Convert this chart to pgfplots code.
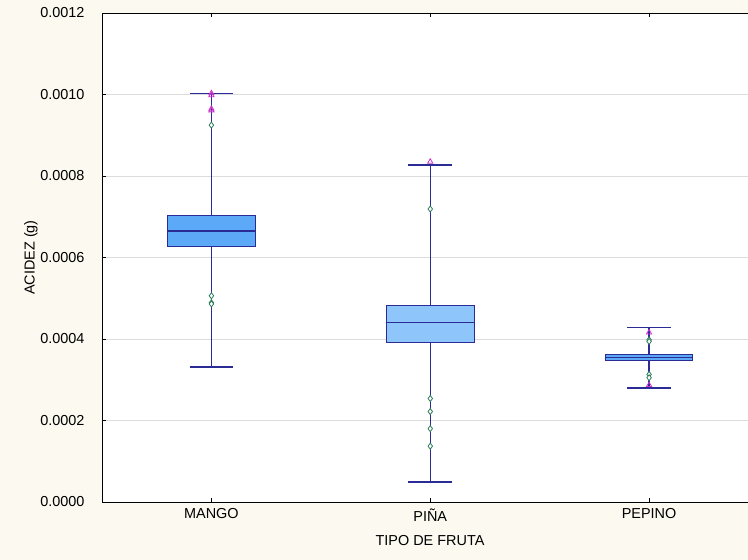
\documentclass[border=0pt]{standalone}
\usepackage{fontspec}
\setmainfont{Liberation Sans}
\usepackage{pgfplots}
\pgfplotsset{compat=1.18}
\usepgfplotslibrary{statistics}
\definecolor{cream}{HTML}{FCF9F0}
\definecolor{navyline}{HTML}{2B2B96}
\definecolor{boxA}{HTML}{5CA9F7}
\definecolor{boxB}{HTML}{8EC5FA}
\definecolor{outgreen}{HTML}{2E7D5B}
\definecolor{outmag}{HTML}{CC33CC}
\definecolor{gridgrey}{HTML}{DCDCDC}
\begin{document}
\begin{tikzpicture}
\fill[cream] (0bp,0bp) rectangle (748bp,560bp);
\begin{axis}[
  at={(102bp,58bp)}, anchor=south west,
  scale only axis, width=646bp, height=489bp,
  xmin=-0.5, xmax=2.452, ymin=0, ymax=0.0012,
  axis background/.style={fill=white},
  axis x line*=box, axis y line*=left,
  axis line style={black, line width=0.9bp},
  xtick={0,1,2}, xticklabels={MANGO,PIÑA,PEPINO},
  ytick={0,0.0002,0.0004,0.0006,0.0008,0.0010,0.0012},
  scaled y ticks=false,
  yticklabel style={/pgf/number format/.cd, fixed, fixed zerofill, precision=4, assume math mode=true, /tikz/.cd, xshift=-14bp},
  tick style={black, line width=0.8bp},
  tick align=inside, major tick length=4bp,
  ymajorgrids, grid style={gridgrey, line width=0.8bp},
  font=\fontsize{14.5}{16}\selectfont,
  tick label style={font=\fontsize{14.5}{16}\selectfont},
  xticklabel style={yshift=-3bp},
  xlabel={TIPO DE FRUTA}, ylabel={ACIDEZ (g)},
  xlabel style={at={(axis description cs:0.5077,0)}, anchor=center, yshift=-39bp},
  ylabel style={at={(axis description cs:-0.110,0.5)}, anchor=center},
  clip=false,
  boxplot/draw direction=y,
  boxplot/every whisker/.style={draw=navyline, line width=1.3bp},
  boxplot/every box/.style={draw=navyline, line width=1bp},
  boxplot/every median/.style={draw=navyline, line width=1.1bp},
]
% MANGO
\addplot+[no marks, draw=navyline, line width=1bp, fill=boxA, solid,
  boxplot prepared={lower whisker=0.000331, lower quartile=0.000627, median=0.000665,
  upper quartile=0.000704, upper whisker=0.001003, draw position=0,
  box extend=0.4, whisker extend=0.2}] coordinates {};
% PINA
\addplot+[no marks, draw=navyline, line width=1bp, fill=boxB, solid,
  boxplot prepared={lower whisker=0.000049, lower quartile=0.000392, median=0.000440,
  upper quartile=0.000483, upper whisker=0.000827, draw position=1,
  box extend=0.4, whisker extend=0.2}] coordinates {};
% PEPINO
\addplot+[no marks, draw=navyline, line width=1bp, fill=boxA, solid,
  boxplot prepared={lower whisker=0.000280, lower quartile=0.000347, median=0.000355,
  upper quartile=0.000362, upper whisker=0.000429, draw position=2,
  box extend=0.4, whisker extend=0.2}] coordinates {};
% outliers: diamonds
\addplot[only marks, mark=diamond*, mark size=3bp, mark options={draw=outgreen, fill=white, line width=0.8bp}]
  coordinates {(0,0.000925) (0,0.000506) (0,0.000489) (0,0.000486)
  (1,0.000719) (1,0.000254) (1,0.000222) (1,0.000180) (1,0.000137)
  (2,0.000398) (2,0.000394) (2,0.000313) (2,0.000305)};
% outliers: triangles
\addplot[only marks, mark=triangle, mark size=3bp, mark options={draw=outmag, line width=0.8bp}]
  coordinates {(0,0.001003) (0,0.000998) (0,0.000965) (0,0.000961)
  (1,0.000835) (2,0.000416) (2,0.000287)};
\end{axis}
\pgfresetboundingbox
\path[use as bounding box] (0bp,0bp) rectangle (748bp,560bp);
\end{tikzpicture}
\end{document}
